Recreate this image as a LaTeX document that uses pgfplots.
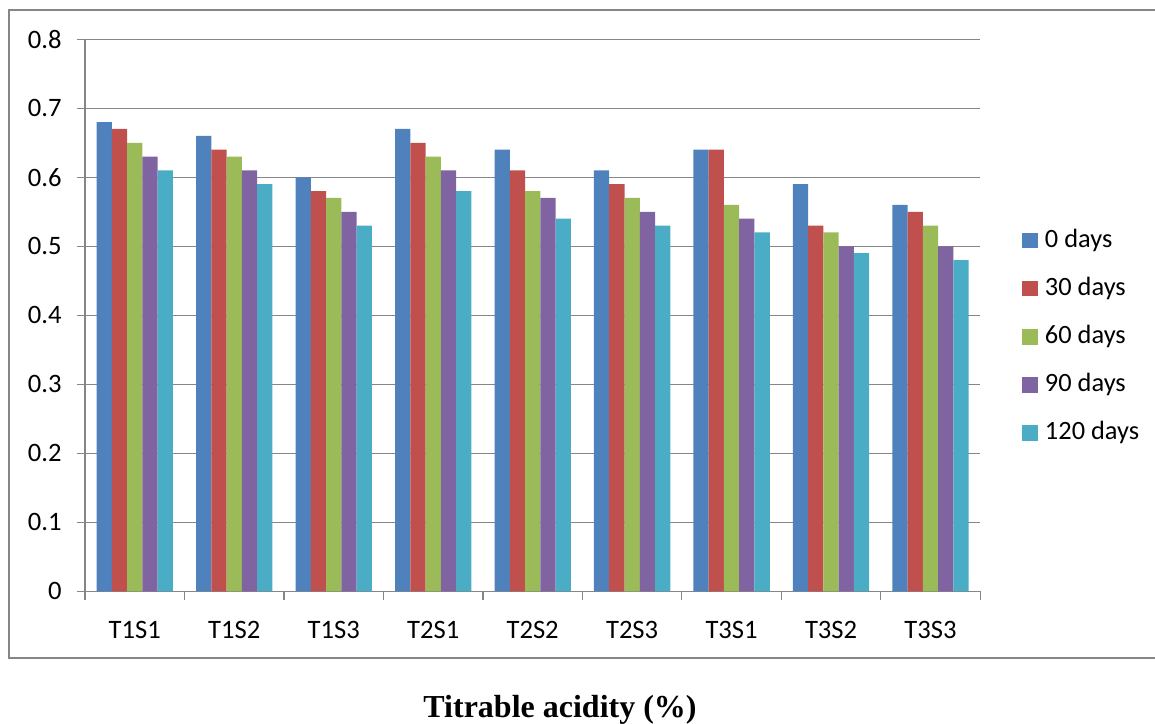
\documentclass[border=0pt]{standalone}
\usepackage{pgfplots}
\pgfplotsset{compat=1.18}
\usepackage{fontspec}
\setmainfont{Carlito}
\newfontfamily\titlefont{Liberation Serif}
\definecolor{c0}{HTML}{4F81BD}
\definecolor{c30}{HTML}{C0504D}
\definecolor{c60}{HTML}{9BBB59}
\definecolor{c90}{HTML}{8064A2}
\definecolor{c120}{HTML}{4BACC6}
\definecolor{axgray}{HTML}{868686}
\begin{document}
\begin{tikzpicture}
\begin{axis}[
  scale only axis, width=447.65pt, height=276pt,
  ybar=0pt, bar width=0.1534,
  xmin=-0.5, xmax=8.5, ymin=0, ymax=0.8,
  xtick={-0.5,0.5,...,8.5},
  x tick label as interval,
  xticklabels={T1S1,T1S2,T1S3,T2S1,T2S2,T2S3,T3S1,T3S2,T3S3},
  ytick={0,0.1,...,0.8},
  yticklabel style={/pgf/number format/fixed, /pgf/number format/precision=1, xshift=-4pt},
  xticklabel style={yshift=-7pt},
  /pgf/number format/assume math mode=true,
  tick label style={font=\fontsize{13.3}{15}\selectfont},
  axis x line*=bottom, axis y line*=left,
  axis line style={axgray, line width=0.6pt},
  tick style={axgray, line width=0.6pt},
  tick align=outside, major tick length=4.2pt,
  ymajorgrids, grid style={axgray, line width=0.6pt},
  clip=false,
  legend style={draw=none, fill=none, at={(rel axis cs:1.04769,0.4661)}, anchor=west, xshift=-3.5pt, yshift=-1.5pt,
    font=\fontsize{13.2}{15}\selectfont, row sep=11.6pt,
    nodes={inner sep=0pt, text height=9.5pt, text depth=3pt}},
  legend cell align=left,
  legend image code/.code={\fill[#1] (0pt,-3.8pt) rectangle (7.8pt,4pt);},
  /tikz/every odd column/.style={column sep=3.5pt},
]
\addplot[fill=c0, draw=none] coordinates {(0,0.68) (1,0.66) (2,0.60) (3,0.67) (4,0.64) (5,0.61) (6,0.64) (7,0.59) (8,0.56)};
\addplot[fill=c30, draw=none] coordinates {(0,0.67) (1,0.64) (2,0.58) (3,0.65) (4,0.61) (5,0.59) (6,0.64) (7,0.53) (8,0.55)};
\addplot[fill=c60, draw=none] coordinates {(0,0.65) (1,0.63) (2,0.57) (3,0.63) (4,0.58) (5,0.57) (6,0.56) (7,0.52) (8,0.53)};
\addplot[fill=c90, draw=none] coordinates {(0,0.63) (1,0.61) (2,0.55) (3,0.61) (4,0.57) (5,0.55) (6,0.54) (7,0.50) (8,0.50)};
\addplot[fill=c120, draw=none] coordinates {(0,0.61) (1,0.59) (2,0.53) (3,0.58) (4,0.54) (5,0.53) (6,0.52) (7,0.49) (8,0.48)};
\legend{0 days,30 days,60 days,90 days,120 days}
\coordinate (bbsw) at (rel axis cs:-0.09494,-0.24040);
\coordinate (bbne) at (rel axis cs:1.19513,1.07120);
\draw[axgray, line width=0.6pt] (rel axis cs:1.2,1.05308) -- (rel axis cs:-0.08489,1.05308) -- (rel axis cs:-0.08489,-0.12083) -- (rel axis cs:1.2,-0.12083);
\node[font=\titlefont\bfseries\fontsize{16}{18}\selectfont] at (rel axis cs:0.5306,-0.2150) {Titrable acidity (\%)};
\end{axis}
\pgfresetboundingbox
\path (bbsw) rectangle (bbne);
\end{tikzpicture}
\end{document}
